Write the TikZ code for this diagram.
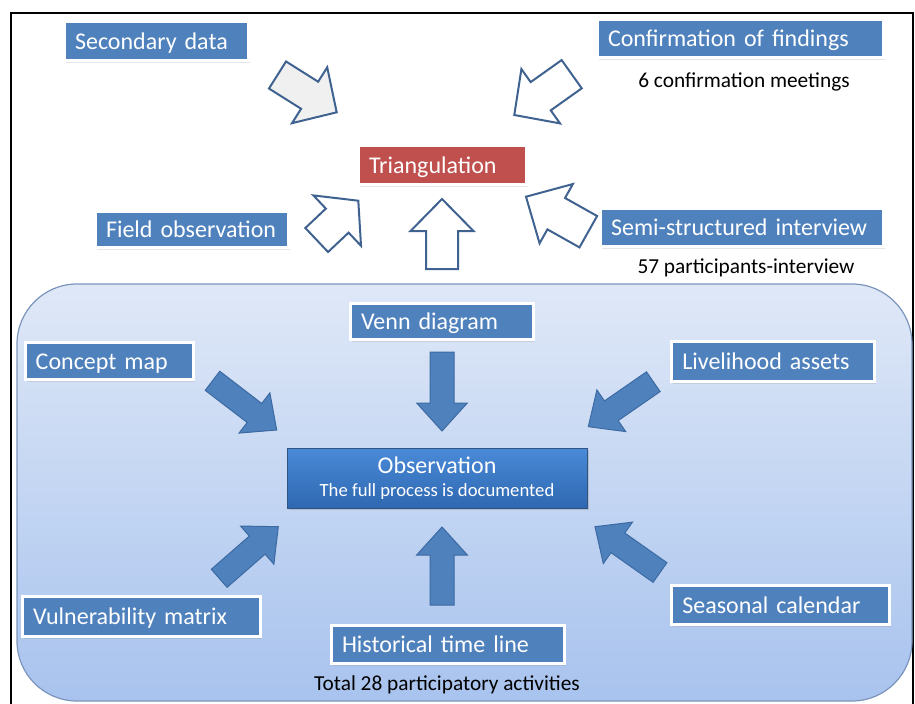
\documentclass[tikz,border=0pt]{standalone}
\usepackage{fontspec}
\setmainfont{Carlito}
\usetikzlibrary{calc,shadows}

\definecolor{boxblue}{HTML}{4F81BD}
\definecolor{boxred}{HTML}{C0504D}
\definecolor{hollowline}{HTML}{3F6290}
\definecolor{solidline}{HTML}{3C6AA2}
\definecolor{paneltop}{HTML}{DFE8F7}
\definecolor{panelbottom}{HTML}{A8C3EE}
\definecolor{paneledge}{HTML}{7C95BC}
\definecolor{obstop}{HTML}{4A8AD7}
\definecolor{obsbottom}{HTML}{2E68B1}

% block arrow: style, tail, tip, half shaft width, half head width, head length
\newcommand\blockarrow[6]{%
  \coordinate (ba-h) at ($(#3)!#6!(#2)$);
  \draw[#1] ($(#2)!#4!90:(#3)$) -- ($(ba-h)!#4!90:(#3)$) -- ($(ba-h)!#5!90:(#3)$) -- (#3)
    -- ($(ba-h)!#5!-90:(#3)$) -- ($(ba-h)!#4!-90:(#3)$) -- ($(#2)!#4!-90:(#3)$) -- cycle;}

\tikzset{
  labelbox/.style={rectangle, fill=boxblue, draw=white, line width=2.25pt,
    text=white, font=\fontsize{18}{20}\selectfont, align=left,
    inner xsep=7.9pt, inner ysep=0pt, text height=16.4pt, text depth=4pt,
    drop shadow={shadow xshift=1.2pt, shadow yshift=-1.5pt, opacity=0.2}},
  note/.style={font=\fontsize{16}{18}\selectfont, anchor=base, inner sep=0pt},
  hollow/.style={draw=hollowline, line width=1.5pt, fill=white},
  solid/.style={draw=solidline, line width=0.75pt, fill=boxblue},
}

\begin{document}
\begin{tikzpicture}[x=0.75pt,y=-0.75pt]
\useasboundingbox (0,0) rectangle (915,704);

% outer frame
\draw[line width=1.5pt] (11,704) -- (11,13) -- (913,13) -- (913,704);

% shaded panel holding the participatory activities
\draw[paneledge, line width=0.9pt, top color=paneltop, bottom color=panelbottom,
      rounded corners=45pt] (17,284) rectangle (912,701);

% upper part: sources feeding the triangulation
\node[labelbox, text width=122.2pt, minimum height=29.25pt] (sec) at (156.5,41) {Secondary data};
\node[labelbox, text width=198.7pt, minimum height=28.5pt] (conf) at (740.5,38.5) {Confirmation of findings};
\node[note] (meet) at (744,87.5) {6 confirmation meetings};
\node[labelbox, fill=boxred, text width=110.2pt, minimum height=29.25pt] (tri) at (442.5,165) {Triangulation};
\node[labelbox, text width=128.95pt, minimum height=27pt] (field) at (192,229.5) {Field observation};
\node[labelbox, text width=196.45pt, minimum height=28.5pt] (semi) at (742,227.5) {Semi-structured interview};
\node[note] (part) at (746,273) {57 participants-interview};

\coordinate (a1t) at (277.5,75);   \coordinate (a1h) at (336.7,112.3);
\coordinate (a2t) at (571.7,74.2); \coordinate (a2h) at (514.3,115);
\coordinate (a3t) at (316.7,240);  \coordinate (a3h) at (358.3,200.7);
\coordinate (a4t) at (442,269);    \coordinate (a4h) at (442,199);
\coordinate (a5t) at (588.3,231.7);\coordinate (a5h) at (526,196.7);

\blockarrow{hollow, fill=black!6}{a1t}{a1h}{12pt}{24.75pt}{24pt}
\blockarrow{hollow}{a2t}{a2h}{13pt}{25pt}{24.3pt}
\blockarrow{hollow}{a3t}{a3h}{12.4pt}{26pt}{21.75pt}
\blockarrow{hollow}{a4t}{a4h}{12pt}{23.6pt}{24pt}
\blockarrow{hollow}{a5t}{a5h}{13.5pt}{25.5pt}{26pt}

% lower part: participatory activities around the observation
\node[labelbox, text width=121.45pt, minimum height=27pt] (venn) at (442,321.5) {Venn diagram};
\node[labelbox, text width=110.2pt, minimum height=28pt] (concept) at (109.2,361.2) {Concept map};
\node[labelbox, text width=136.45pt, minimum height=29.8pt] (live) at (773.3,361.7) {Livelihood assets};
\node[labelbox, text width=162.9pt, minimum height=29.8pt] (vuln) at (141.7,616.7) {Vulnerability matrix};
\node[labelbox, text width=159pt, minimum height=28.5pt] (hist) at (448,644.5) {Historical time line};
\node[labelbox, text width=147.7pt, minimum height=29.7pt] (season) at (780.8,605) {Seasonal calendar};
\node[note] (total) at (447,690) {Total 28 participatory activities};

\node[rectangle, draw=solidline!80!black, line width=0.6pt, top color=obstop, bottom color=obsbottom,
      minimum width=225pt, minimum height=45pt, text=white, align=center,
      font=\fontsize{18}{17.25}\selectfont,
      drop shadow={shadow xshift=1.2pt, shadow yshift=-1.5pt, opacity=0.3}]
  (obs) at (437,478) {Observation\\{\fontsize{14}{17.25}\selectfont The full process is documented}};

\coordinate (b1t) at (212.5,380.8); \coordinate (b1h) at (276.7,430);
\coordinate (b2t) at (442,352);     \coordinate (b2h) at (442,431);
\coordinate (b3t) at (653.3,381.7); \coordinate (b3h) at (588.3,426.7);
\coordinate (b4t) at (219.2,578.3); \coordinate (b4h) at (278.3,526.7);
\coordinate (b5t) at (442,605);     \coordinate (b5h) at (442,527);
\coordinate (b6t) at (660,572.5);   \coordinate (b6h) at (595,526.7);

\foreach \n in {b1,b2,b3,b4,b5,b6}{
  \blockarrow{solid}{\n t}{\n h}{9pt}{19pt}{21pt}
}
\end{tikzpicture}
\end{document}
